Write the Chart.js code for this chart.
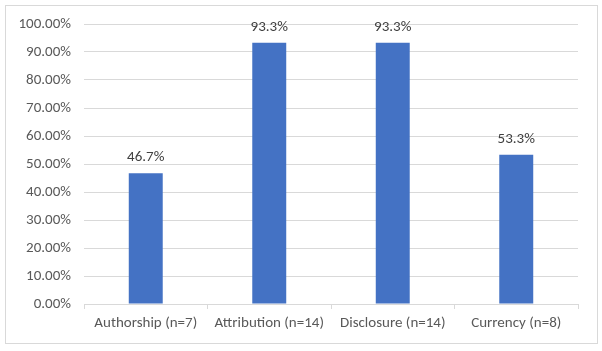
<!DOCTYPE html>
<html>
<head>
<meta charset="utf-8">
<script src="https://cdn.jsdelivr.net/npm/chart.js@4"></script>
<style>
html,body{margin:0;padding:0;background:#fff;}
#wrap{width:602px;height:351px;position:relative;}
</style>
</head>
<body>
<div id="wrap"><canvas id="c" width="602" height="351"></canvas></div>
<script>
const categories = ["Authorship (n=7)", "Attribution (n=14)", "Disclosure (n=14)", "Currency (n=8)"];
const percentValues = [46.7, 93.3, 93.3, 53.3];
const yTickMax = 100;
const yTickStep = 10;

const FONT = "Carlito, Lato, 'Liberation Sans', sans-serif";

const borderPlugin = {
  id: 'outerBorder',
  beforeDraw(chart) {
    const ctx = chart.ctx;
    ctx.save();
    ctx.fillStyle = '#fff';
    ctx.fillRect(0, 0, chart.width, chart.height);
    ctx.strokeStyle = '#d9d9d9';
    ctx.lineWidth = 1;
    ctx.strokeRect(5.5, 5.5, 592, 338);
    ctx.restore();
  }
};

const labelPlugin = {
  id: 'barLabels',
  afterDatasetsDraw(chart) {
    const ctx = chart.ctx;
    const meta = chart.getDatasetMeta(0);
    ctx.save();
    ctx.font = "15px " + FONT;
    ctx.fillStyle = '#404040';
    ctx.textAlign = 'center';
    ctx.textBaseline = 'middle';
    meta.data.forEach((bar, i) => {
      ctx.fillText(percentValues[i].toFixed(1) + '%', bar.x, bar.y - 16);
    });
    ctx.restore();
  }
};

new Chart(document.getElementById('c'), {
  type: 'bar',
  data: {
    labels: categories,
    datasets: [{
      data: percentValues,
      backgroundColor: '#4472c4',
      borderWidth: 0,
      categoryPercentage: 0.55,
      barPercentage: 0.5
    }]
  },
  options: {
    responsive: false,
    animation: false,
    devicePixelRatio: 1,
    layout: { padding: { left: 0, right: 24, top: 24, bottom: 0 } },
    plugins: { legend: { display: false }, tooltip: { enabled: false } },
    scales: {
      x: {
        grid: { display: true, drawOnChartArea: false, drawTicks: true, tickLength: 5, offset: true, color: '#d9d9d9' },
        border: { display: true, color: '#d9d9d9' },
        ticks: { color: '#595959', font: { family: FONT, size: 15 }, padding: 5, maxRotation: 0, autoSkip: false },
        afterFit(scale) { scale.height = 47; }
      },
      y: {
        min: 0,
        max: yTickMax,
        grid: { color: '#d9d9d9', drawTicks: false },
        border: { display: false },
        ticks: {
          stepSize: yTickStep,
          color: '#595959',
          font: { family: FONT, size: 15 },
          padding: 13,
          callback: v => v.toFixed(2) + '%'
        },
        afterFit(scale) { scale.width = 84; }
      }
    }
  },
  plugins: [borderPlugin, labelPlugin]
});
</script>
</body>
</html>
